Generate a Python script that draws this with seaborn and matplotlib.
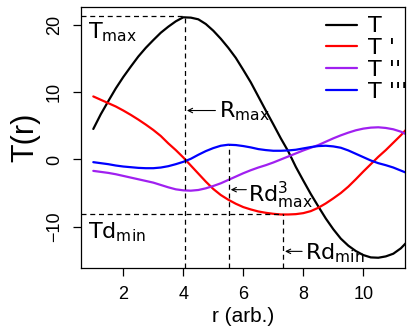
import numpy as np
import pandas as pd
import matplotlib
matplotlib.use('Agg')
import matplotlib.pyplot as plt
from matplotlib.lines import Line2D
import seaborn as sns

# sample grid in r (arb. units)
r = np.arange(1.0, 11.51, 0.25)

# T(r) and its derivatives
T = [4.55, 6.75, 8.7, 10.6, 12.3, 13.85, 15.35, 16.65, 17.8, 18.9, 19.8, 20.6,
     21.2, 21.15, 20.9, 20.2, 19.2, 18.0, 16.65, 15.15, 13.35, 11.5, 9.4, 7.3,
     5.25, 3.15, 1.2, -1.1, -3.15, -5.15, -7.0, -8.8, -10.4, -11.8, -12.85,
     -13.65, -14.25, -14.6, -14.65, -14.45, -14.05, -13.25, -12.1]
T1 = [9.4, 8.9, 8.4, 7.9, 7.3, 6.65, 5.95, 5.2, 4.4, 3.5, 2.4, 1.4, 0.3, -0.9,
      -2.1, -3.3, -4.4, -5.3, -6.0, -6.6, -7.1, -7.45, -7.75, -7.95, -8.1,
      -8.2, -8.2, -8.15, -8.0, -7.7, -7.2, -6.55, -5.8, -5.0, -4.05, -2.95,
      -1.8, -0.7, 0.4, 1.4, 2.5, 3.6, 4.8]
T2 = [-1.7, -1.85, -2.0, -2.2, -2.45, -2.7, -2.95, -3.2, -3.45, -3.8, -4.15,
      -4.45, -4.6, -4.65, -4.55, -4.3, -3.95, -3.55, -3.05, -2.55, -2.05, -1.6,
      -1.2, -0.85, -0.45, 0.0, 0.45, 0.9, 1.35, 1.75, 2.15, 2.65, 3.15, 3.6,
      4.0, 4.35, 4.6, 4.75, 4.8, 4.7, 4.5, 4.15, 3.6]
T3 = [-0.4, -0.55, -0.7, -0.9, -1.05, -1.15, -1.25, -1.3, -1.3, -1.2, -1.0,
      -0.7, -0.35, 0.1, 0.7, 1.25, 1.7, 2.05, 2.2, 2.15, 2.0, 1.8, 1.55, 1.4,
      1.3, 1.3, 1.35, 1.45, 1.65, 1.85, 2.0, 2.05, 1.95, 1.75, 1.35, 0.85,
      0.35, -0.15, -0.55, -0.85, -1.2, -1.65, -2.1]

series = ['T', "T '", "T ''", "T '''"]
colors = ['black', '#FF0000', '#A020F0', '#0000FF']

# marked extrema
r_max, T_max = 4.05, 21.4
r_d3max, d3_max = 5.52, 2.2
r_dmin, Td_min = 7.33, -8.2

df = pd.DataFrame({'r': r, series[0]: T, series[1]: T1,
                   series[2]: T2, series[3]: T3})
df = df.melt(id_vars='r', var_name='series', value_name='val')

sns.set_style('white')
plt.rcParams['font.family'] = ['Liberation Sans', 'DejaVu Sans']
plt.rcParams['mathtext.fontset'] = 'dejavusans'
plt.rcParams['mathtext.default'] = 'regular'
for k in ['text.color', 'axes.labelcolor', 'xtick.color', 'ytick.color']:
    plt.rcParams[k] = 'black'

fig, ax = plt.subplots(figsize=(4.16, 3.28), dpi=100)
fig.subplots_adjust(left=81/416, right=405/416, top=1-6.7/328, bottom=1-268/328)

sns.lineplot(data=df, x='r', y='val', hue='series', hue_order=series,
             palette=colors, linewidth=1.6, legend=False, ax=ax)

xlo, xhi = 0.59, 11.39
ylo, yhi = -16.18, 22.78
ax.set_xlim(xlo, xhi)
ax.set_ylim(ylo, yhi)

dash = dict(color='black', lw=0.9, linestyle=(0, (4, 3)))
ax.hlines(T_max, xlo, r_max, **dash)
ax.vlines(r_max, ylo, T_max, **dash)
ax.hlines(Td_min, xlo, r_dmin, **dash)
ax.vlines(r_dmin, ylo, Td_min, **dash)
ax.vlines(r_d3max, ylo, d3_max, **dash)

tf = dict(family='DejaVu Sans', fontsize=16)
ax.text(0.81, 18.0, r'T$_{max}$', ha='left', va='baseline', **tf)
ax.text(0.81, -11.8, r'Td$_{min}$', ha='left', va='baseline', **tf)

arr = dict(arrowstyle='->', lw=0.8, color='black', shrinkA=0, shrinkB=0,
           mutation_scale=8)
ax.annotate('', xy=(r_max + 0.07, 7.3), xytext=(5.07, 7.3), arrowprops=arr)
ax.text(5.18, 6.3, r'R$_{max}$', ha='left', va='baseline', **tf)
ax.annotate('', xy=(r_d3max + 0.06, -4.5), xytext=(6.1, -4.5), arrowprops=arr)
ax.text(6.17, -6.4, r'Rd$^3_{max}$', ha='left', va='baseline', **tf)
ax.annotate('', xy=(r_dmin + 0.06, -13.7), xytext=(7.96, -13.7), arrowprops=arr)
ax.text(8.05, -14.9, r'Rd$_{min}$', ha='left', va='baseline', **tf)

ax.set_xticks([2, 4, 6, 8, 10])
ax.set_yticks([-10, 0, 10, 20])
ax.tick_params(axis='both', direction='out', length=6, width=0.9,
               labelsize=13, pad=7, bottom=True, left=True, color='black')
ax.tick_params(axis='y', labelrotation=90)
for lab in ax.get_yticklabels():
    lab.set_va('center')
for s in ax.spines.values():
    s.set_color('black')
    s.set_linewidth(0.9)

ax.set_xlabel('r (arb.)', fontsize=15, labelpad=3)
ax.set_ylabel('T(r)', fontsize=22, labelpad=4)

handles = [Line2D([], [], color=c, lw=1.6) for c in colors]
ax.legend(handles, series, loc='upper left', bbox_to_anchor=(0.756, 0.963),
          frameon=False, borderpad=0, borderaxespad=0, handlelength=1.4,
          handletextpad=0.5, labelspacing=0.08,
          prop={'family': 'DejaVu Sans', 'size': 16})

plt.savefig('out.png', dpi=100)
